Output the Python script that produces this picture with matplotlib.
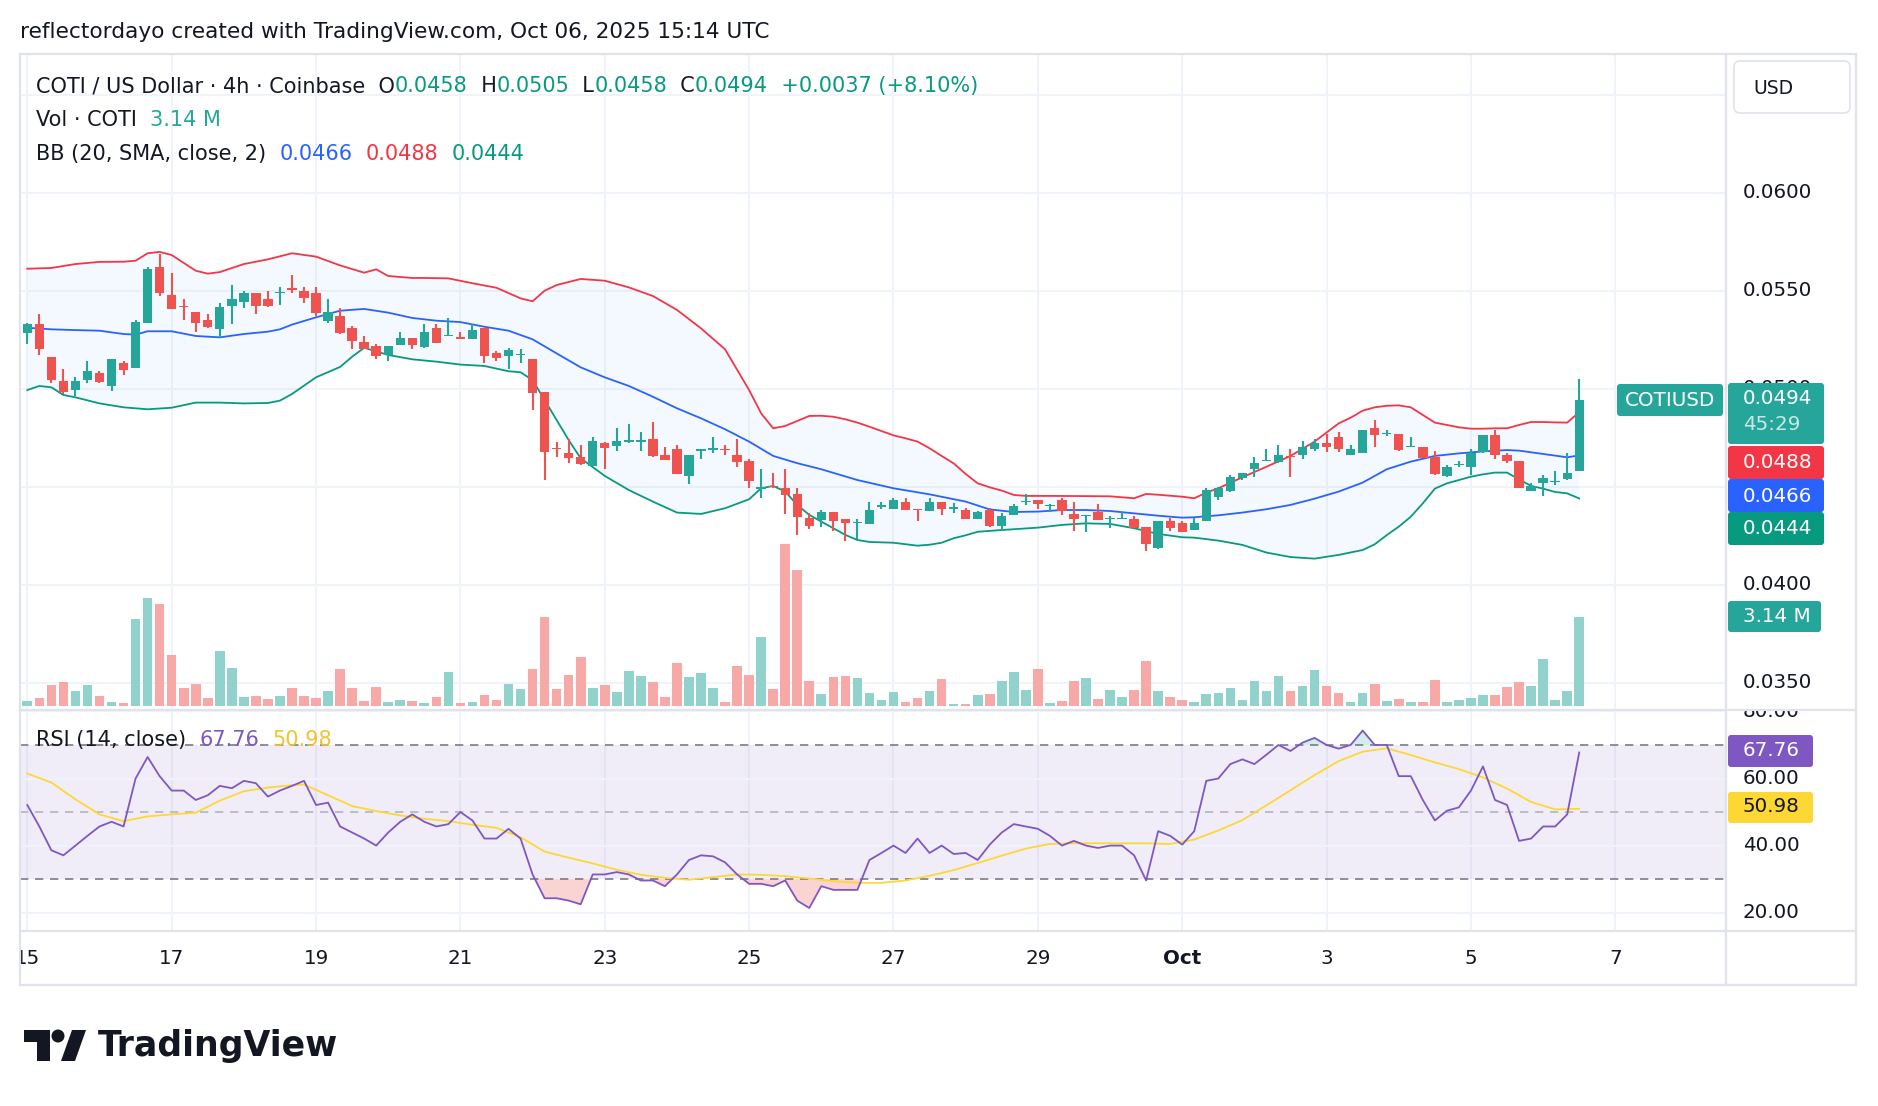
import matplotlib
matplotlib.use("Agg")
import matplotlib.pyplot as plt
import numpy as np
from matplotlib.lines import Line2D
from matplotlib.patches import FancyBboxPatch, Polygon, Circle
from matplotlib.transforms import (Bbox, TransformedBbox, IdentityTransform,
                                   blended_transform_factory)

# ---- data (4h candles, Sep 15 00:00 -> Oct 6 12:00) ---------------------
open_ = [.05286, .05328, .05162, .05039, .04993, .05046, .05080, .05016, .05131, .05107,
         .05337, .05621, .05478, .05422, .05391, .05351, .05306, .05422, .05442, .05488,
         .05458, .05487, .05512, .05499, .05488, .05347, .05371, .05310, .05238, .05218,
         .05172, .05225, .05259, .05214, .05310, .05267, .05264, .05255, .05310, .05182,
         .05169, .05172, .05152, .04983, .04697, .04672, .04652, .04607, .04723, .04709,
         .04728, .04730, .04743, .04662, .04692, .04556, .04682, .04689, .04694, .04662,
         .04631, .04490, .04505, .04492, .04461, .04339, .04330, .04369, .04335, .04315,
         .04311, .04398, .04388, .04422, .04386, .04378, .04422, .04388, .04379, .04337,
         .04379, .04301, .04357, .04420, .04430, .04402, .04430, .04361, .04350, .04371,
         .04334, .04334, .04334, .04294, .04187, .04323, .04316, .04281, .04323, .04449,
         .04480, .04543, .04589, .04629, .04628, .04657, .04660, .04691, .04721, .04752,
         .04660, .04670, .04800, .04769, .04769, .04701, .04701, .04650, .04556, .04609,
         .04599, .04677, .04764, .04660, .04631, .04480, .04521, .04524, .04538, .0458]
high = [.05334, .05381, .05162, .05101, .05060, .05141, .05090, .05152, .05141, .05351,
        .05621, .05687, .05590, .05458, .05391, .05381, .05437, .05529, .05499, .05488,
        .05499, .05519, .05580, .05519, .05519, .05458, .05412, .05320, .05269, .05228,
        .05218, .05289, .05259, .05330, .05330, .05361, .05289, .05330, .05310, .05192,
        .05208, .05203, .05152, .04983, .04730, .04743, .04713, .04754, .04730, .04799,
        .04820, .04779, .04830, .04703, .04713, .04662, .04691, .04754, .04713, .04743,
        .04641, .04590, .04572, .04590, .04492, .04364, .04381, .04369, .04335, .04337,
        .04420, .04420, .04441, .04441, .04386, .04441, .04422, .04419, .04390, .04378,
        .04390, .04368, .04412, .04463, .04430, .04412, .04442, .04420, .04356, .04412,
        .04349, .04373, .04350, .04294, .04323, .04339, .04325, .04342, .04492, .04500,
        .04558, .04572, .04650, .04691, .04711, .04691, .04733, .04742, .04767, .04779,
        .04711, .04788, .04840, .04789, .04769, .04752, .04701, .04680, .04609, .04631,
        .04691, .04762, .04788, .04670, .04631, .04517, .04558, .04582, .04670, .0505]
low = [.05228, .05174, .05031, .04973, .04963, .05031, .05031, .04990, .05072, .05107,
       .05337, .05473, .05408, .05352, .05291, .05311, .05260, .05332, .05413, .05383,
       .05419, .05429, .05490, .05439, .05371, .05337, .05281, .05204, .05204, .05153,
       .05143, .05225, .05204, .05209, .05235, .05267, .05255, .05255, .05133, .05143,
       .05102, .05133, .04893, .04536, .04653, .04623, .04612, .04607, .04592, .04684,
       .04725, .04684, .04653, .04638, .04567, .04515, .04643, .04674, .04663, .04602,
       .04495, .04444, .04495, .04362, .04255, .04286, .04296, .04276, .04225, .04231,
       .04308, .04385, .04385, .04379, .04327, .04378, .04354, .04364, .04337, .04337,
       .04296, .04276, .04357, .04405, .04385, .04373, .04354, .04276, .04267, .04328,
       .04288, .04334, .04291, .04174, .04184, .04274, .04267, .04279, .04323, .04432,
       .04475, .04534, .04551, .04629, .04623, .04551, .04643, .04684, .04677, .04677,
       .04660, .04670, .04704, .04759, .04684, .04701, .04645, .04561, .04551, .04599,
       .04561, .04674, .04643, .04623, .04492, .04476, .04454, .04507, .04532, .0458]
close = [.05328, .05204, .05046, .04983, .05039, .05090, .05034, .05152, .05097, .05340,
         .05611, .05487, .05408, .05415, .05337, .05317, .05417, .05458, .05488, .05424,
         .05424, .05493, .05504, .05463, .05386, .05391, .05286, .05245, .05204, .05169,
         .05218, .05259, .05225, .05289, .05235, .05272, .05255, .05299, .05169, .05158,
         .05197, .05177, .04980, .04679, .04691, .04648, .04618, .04733, .04699, .04733,
         .04736, .04738, .04658, .04638, .04567, .04662, .04691, .04697, .04685, .04628,
         .04531, .04498, .04498, .04459, .04347, .04301, .04369, .04323, .04313, .04322,
         .04379, .04405, .04432, .04379, .04381, .04422, .04388, .04396, .04337, .04369,
         .04300, .04350, .04402, .04427, .04410, .04407, .04378, .04337, .04356, .04332,
         .04340, .04340, .04291, .04209, .04323, .04288, .04271, .04313, .04483, .04495,
         .04548, .04568, .04619, .04636, .04660, .04650, .04701, .04725, .04701, .04691,
         .04691, .04788, .04762, .04776, .04689, .04708, .04648, .04567, .04599, .04616,
         .04674, .04762, .04660, .04629, .04492, .04504, .04543, .04529, .04568, .0494]
volume = [0.18, 0.29, 0.74, 0.85, 0.53, 0.74, 0.35, 0.14, 0.11, 3.07,
          3.81, 3.60, 1.80, 0.64, 0.78, 0.28, 1.94, 1.34, 0.32, 0.35,
          0.25, 0.35, 0.64, 0.35, 0.28, 0.53, 1.31, 0.64, 0.18, 0.67,
          0.14, 0.21, 0.18, 0.11, 0.32, 1.20, 0.11, 0.14, 0.39, 0.21,
          0.78, 0.60, 1.31, 3.14, 0.60, 1.09, 1.73, 0.64, 0.74, 0.49,
          1.23, 1.06, 0.85, 0.32, 1.52, 1.02, 1.16, 0.64, 0.14, 1.41,
          1.09, 2.43, 0.60, 5.72, 4.80, 0.88, 0.42, 1.02, 1.06, 0.99,
          0.46, 0.21, 0.49, 0.14, 0.28, 0.53, 0.95, 0.07, 0.07, 0.39,
          0.42, 0.88, 1.20, 0.56, 1.31, 0.11, 0.18, 0.88, 0.99, 0.25,
          0.56, 0.32, 0.56, 1.59, 0.53, 0.32, 0.21, 0.14, 0.42, 0.46,
          0.64, 0.21, 0.88, 0.53, 1.06, 0.53, 0.71, 1.27, 0.71, 0.46,
          0.14, 0.46, 0.78, 0.18, 0.25, 0.14, 0.14, 0.92, 0.14, 0.21,
          0.28, 0.39, 0.39, 0.67, 0.85, 0.71, 1.66, 0.21, 0.53, 3.14]

# Bollinger bands (20, SMA, close, 2) at candle indices
bb_up_i = [0, 2, 4, 6, 8, 9, 10, 11, 12, 14, 15, 16, 18, 20, 22, 24, 26, 28, 29, 30, 32, 33,
           35, 37, 39, 41, 42, 43, 44, 46, 48, 50, 52, 54, 56, 58, 60, 61, 62, 63, 65, 66,
           67, 68, 69, 70, 71, 72, 73, 74, 75, 76, 77, 78, 79, 80, 81, 82, 83, 85, 88, 90,
           92, 93, 94, 96, 97, 98, 99, 101, 103, 105, 107, 109, 110, 111, 112, 113, 114,
           115, 116, 117, 118, 119, 120, 121, 122, 123, 124, 125, 126, 127, 128, 129]
bb_up = [.05612, .05616, .05636, .05647, .05648, .05653, .05691, .05698, .05682, .05602,
         .05587, .05595, .05636, .05660, .05691, .05674, .05629, .05592, .05609, .05575,
         .05565, .05565, .05563, .05538, .05515, .05461, .05446, .05500, .05529, .05560,
         .05551, .05517, .05473, .05402, .05308, .05201, .04993, .04874, .04798, .04810,
         .04861, .04862, .04857, .04844, .04827, .04806, .04784, .04762, .04747, .04730,
         .04696, .04657, .04619, .04565, .04517, .04497, .04480, .04458, .04453, .04453,
         .04452, .04451, .04441, .04463, .04459, .04449, .04441, .04470, .04492, .04548,
         .04602, .04657, .04730, .04823, .04852, .04888, .04905, .04913, .04915, .04905,
         .04866, .04827, .04815, .04803, .04796, .04796, .04798, .04798, .04815, .04830,
         .04830, .04828, .04827, .04880]
bb_mid_i = [0, 2, 4, 6, 8, 9, 10, 12, 14, 16, 18, 20, 21, 22, 24, 26, 28, 30, 32, 34, 36,
            38, 40, 42, 44, 46, 48, 50, 52, 54, 56, 58, 60, 62, 64, 66, 69, 72, 75, 78, 80,
            82, 84, 86, 88, 90, 92, 94, 96, 97, 99, 101, 103, 105, 107, 109, 111, 113, 115,
            117, 119, 121, 123, 124, 126, 128, 129]
bb_mid = [.05311, .05303, .05299, .05296, .05279, .05276, .05293, .05293, .05269, .05262,
          .05279, .05291, .05303, .05327, .05364, .05398, .05407, .05388, .05361, .05347,
          .05340, .05316, .05296, .05252, .05180, .05109, .05058, .05014, .04959, .04900,
          .04849, .04793, .04730, .04657, .04620, .04589, .04534, .04492, .04461, .04424,
          .04384, .04371, .04373, .04381, .04381, .04376, .04364, .04352, .04342, .04344,
          .04354, .04368, .04385, .04407, .04439, .04475, .04521, .04589, .04628, .04657,
          .04670, .04680, .04687, .04684, .04667, .04650, .04660]
bb_lo_i = [0, 1, 2, 3, 4, 6, 8, 10, 12, 14, 16, 18, 20, 21, 22, 24, 26, 27, 28, 30, 32, 34,
           36, 38, 40, 41, 42, 43, 44, 45, 46, 48, 50, 52, 54, 56, 58, 60, 61, 62, 63, 64,
           65, 66, 67, 68, 69, 70, 72, 74, 75, 76, 77, 78, 79, 81, 84, 86, 88, 90, 92, 94,
           96, 97, 99, 101, 103, 105, 107, 109, 111, 112, 113, 114, 115, 116, 117, 118, 119,
           120, 121, 122, 123, 124, 125, 126, 127, 128, 129]
bb_lo = [.04993, .05014, .05007, .04968, .04956, .04925, .04905, .04895, .04903, .04929,
         .04929, .04925, .04927, .04939, .04973, .05058, .05111, .05163, .05209, .05172,
         .05150, .05138, .05123, .05116, .05089, .05084, .05044, .04942, .04840, .04738,
         .04645, .04555, .04483, .04424, .04368, .04361, .04390, .04436, .04492, .04504,
         .04475, .04407, .04356, .04322, .04288, .04254, .04228, .04218, .04214, .04199,
         .04204, .04214, .04237, .04252, .04270, .04279, .04291, .04305, .04313, .04310,
         .04288, .04259, .04242, .04240, .04225, .04203, .04164, .04141, .04133, .04152,
         .04177, .04206, .04253, .04296, .04347, .04415, .04490, .04517, .04534, .04551,
         .04563, .04572, .04572, .04537, .04504, .04490, .04473, .04466, .04440]

# RSI (14, close) per candle and its moving average
rsi = [52.1, 45.7, 38.6, 37.1, 40.0, 42.9, 45.7, 47.1, 45.7, 60.0,
       66.4, 60.7, 56.4, 56.4, 53.6, 55.0, 57.8, 57.1, 59.3, 58.6,
       54.6, 56.4, 57.8, 59.3, 52.1, 52.8, 45.7, 43.9, 42.1, 40.0,
       43.9, 47.1, 49.3, 47.1, 45.7, 46.4, 50.0, 47.5, 42.1, 42.1,
       45.0, 42.1, 31.4, 24.3, 24.3, 23.6, 22.5, 31.4, 31.4, 32.1,
       31.4, 29.6, 29.6, 27.9, 31.4, 35.7, 37.1, 36.8, 35.0, 31.4,
       28.6, 28.6, 27.9, 29.6, 23.6, 21.4, 27.9, 26.8, 26.8, 26.8,
       35.7, 37.8, 40.0, 37.8, 42.1, 37.8, 40.0, 37.5, 37.8, 35.7,
       40.3, 43.9, 46.4, 45.7, 45.0, 42.9, 40.0, 41.4, 40.0, 39.3,
       40.0, 40.0, 37.1, 29.6, 44.3, 42.9, 40.3, 44.3, 59.3, 60.0,
       64.3, 65.7, 64.3, 67.1, 70.0, 68.2, 70.7, 72.1, 70.0, 68.9,
       70.0, 74.3, 70.0, 70.0, 60.7, 60.7, 53.6, 47.5, 50.4, 51.4,
       56.4, 63.6, 53.6, 52.1, 41.4, 42.1, 45.7, 45.7, 49.3, 67.76]
rsi_ma_i = [0, 2, 4, 6, 8, 10, 12, 14, 16, 18, 20, 22, 23, 25, 27, 29, 31, 33, 35, 37, 39,
            41, 43, 45, 47, 49, 51, 53, 55, 57, 59, 61, 63, 65, 67, 69, 71, 73, 75, 77, 79,
            81, 83, 85, 87, 89, 91, 93, 95, 97, 99, 101, 103, 105, 107, 109, 111, 113, 115,
            117, 119, 121, 123, 125, 127, 129]
rsi_ma = [61.5, 58.8, 53.8, 49.3, 47.3, 48.7, 49.3, 49.8, 53.4, 56.2, 57.3, 58.0, 58.2,
          55.0, 51.8, 50.3, 49.0, 48.0, 47.3, 46.2, 45.3, 42.5, 38.2, 36.4, 34.7, 32.8,
          31.3, 30.4, 29.8, 30.6, 31.4, 31.3, 30.9, 30.2, 29.4, 28.9, 28.9, 29.6, 31.0,
          32.7, 34.8, 37.0, 39.1, 40.5, 40.7, 40.7, 40.7, 40.7, 40.5, 41.8, 44.5, 47.6,
          52.0, 56.5, 61.0, 65.2, 68.0, 69.0, 67.0, 64.8, 62.8, 60.3, 57.0, 53.0, 50.8, 50.98]

day_ticks = ["15", "17", "19", "21", "23", "25", "27", "29", "Oct", "3", "5", "7"]
price_grid = [0.035, 0.040, 0.045, 0.050, 0.055, 0.060, 0.065]
price_ticks = [0.035, 0.040, 0.050, 0.055, 0.060]   # 0.0450 / 0.0650 sit under tags
rsi_ticks = [20, 40, 60, 80]

# ---- style ----------------------------------------------------------------
UP, DN = "#26a69a", "#ef5350"
VUP, VDN = "#92d2cc", "#f7a9a7"
BB_UP, BB_MID, BB_LO = "#f23645", "#2962ff", "#089981"
PURPLE, YELLOW = "#7e57c2", "#fdd835"
TXT, FRAME, GRID = "#131722", "#e0e3eb", "#f0f3fa"
FONT = "DejaVu Sans"

W, H = 1878, 1106
fig = plt.figure(figsize=(W / 100, H / 100), dpi=100)
fig.patch.set_facecolor("white")
R = fig.canvas.get_renderer()
PIX = IdentityTransform()


def fx(px):
    return px / W


def fy(py):
    return 1 - py / H


def frect(l, t, r, b):
    return [fx(l), fy(b), (r - l) / W, (b - t) / H]


def fline(x0, y0, x1, y1, **kw):
    fig.add_artist(Line2D([x0, x1], [H - y0, H - y1], transform=PIX, **kw))


def fbox(l, t, r, b, fc, ec="none", rad=3, z=5):
    fig.add_artist(FancyBboxPatch((l, H - b), r - l, b - t, transform=PIX,
                                  boxstyle=f"round,pad=0,rounding_size={rad}",
                                  fc=fc, ec=ec, lw=1.2, zorder=z))


def fit(s, width, weight="normal", family=FONT):
    t = fig.text(0, 0, s, fontsize=20, family=family, fontweight=weight)
    w = t.get_window_extent(R).width
    t.remove()
    return 20 * width / w


def runs(x, y, parts, size):
    for s, c in parts:
        t = fig.text(fx(x), fy(y), s, color=c, fontsize=size, family=FONT,
                     va="center", ha="left", zorder=6)
        x += t.get_window_extent(R).width


# ---- panes ----------------------------------------------------------------
X0, X1 = 20, 1726          # plot area (px)
PT, PB, RB, TB = 54, 710, 931, 985
XR = 1856
xlim = (-0.607, 141.2)

ax = fig.add_axes(frect(X0, PT, X1, PB))
axv = fig.add_axes(frect(X0, PT, X1, PB))
axr = fig.add_axes(frect(X0, PB, X1, RB))
ax.set_zorder(2); axv.set_zorder(1)
ax.patch.set_visible(False)
for a in (ax, axv, axr):
    a.set_axis_off()

n = len(close)
idx = np.arange(n)
o, c, hi, lo = map(np.asarray, (open_, close, high, low))
up = c >= o

# grid (under volume)
day_pos = np.arange(0, 12 * len(day_ticks), 12)
for d in day_pos:
    axv.axvline(d, color=GRID, lw=1.4, zorder=0)
    axr.axvline(d, color=GRID, lw=1.4, zorder=0)
axv.hlines(price_grid, xlim[0], xlim[1], colors=GRID, lw=1.4, zorder=0,
           transform=ax.transData)

# volume
axv.bar(idx, volume, width=0.8, color=np.where(up, VUP, VDN), lw=0, zorder=2)
axv.set_xlim(xlim)
axv.set_ylim(-0.141, 23.0)

# bollinger bands
ax.fill(np.r_[bb_up_i, bb_lo_i[::-1]], np.r_[bb_up, bb_lo[::-1]], color="#2196f3",
        alpha=0.05, lw=0, zorder=1)
ax.plot(bb_up_i, bb_up, color=BB_UP, lw=1.3, zorder=2)
ax.plot(bb_mid_i, bb_mid, color=BB_MID, lw=1.3, zorder=2)
ax.plot(bb_lo_i, bb_lo, color=BB_LO, lw=1.3, zorder=2)

# candles
col = np.where(up, UP, DN)
ax.vlines(idx, lo, hi, colors=col, lw=1.5, zorder=3)
ax.bar(idx, np.maximum(np.abs(c - o), 0.00005), bottom=np.minimum(o, c), width=0.78,
       color=col, lw=0, zorder=4)
ax.set_xlim(xlim)
ax.set_ylim(0.033607, 0.067077)

# RSI pane
rsi_a = np.asarray(rsi)
axr.axhspan(30, 70, color=PURPLE, alpha=0.1, lw=0, zorder=0)
for v in rsi_ticks:
    axr.axhline(v, color=GRID, lw=1.4, zorder=0)
axr.axhline(70, color="#787b86", lw=1.2, ls=(0, (5, 4)), zorder=1)
axr.axhline(50, color="#b2b5be", lw=1.2, ls=(0, (5, 4)), zorder=1)
axr.axhline(30, color="#787b86", lw=1.2, ls=(0, (5, 4)), zorder=1)
axr.fill_between(idx, rsi_a, 30, where=rsi_a < 30, interpolate=True,
                 color=DN, alpha=0.25, lw=0, zorder=1)
axr.fill_between(idx, rsi_a, 70, where=rsi_a > 70, interpolate=True,
                 color=UP, alpha=0.2, lw=0, zorder=1)
axr.plot(rsi_ma_i, rsi_ma, color=YELLOW, lw=1.3, zorder=2)
axr.plot(idx, rsi_a, color=PURPLE, lw=1.3, zorder=3)
axr.set_xlim(xlim)
axr.set_ylim(14.54, 80.42)

# ---- frame ----------------------------------------------------------------
kw = dict(color=FRAME, lw=1.6, zorder=4)
fline(X0, PT, XR, PT, **kw)
fline(X0, TB, XR, TB, **kw)
fline(X0, PT, X0, TB, **kw)
fline(XR, PT, XR, TB, **kw)
fline(X1, PT, X1, TB, **kw)
fline(X0, PB, XR, PB, **kw)
fline(X0, RB, XR, RB, **kw)

# ---- price scale ----------------------------------------------------------
AX_FS = 14.3
tr_p = blended_transform_factory(fig.transFigure, ax.transData)
for p in price_ticks:
    fig.text(fx(1743), p, f"{p:.4f}", transform=tr_p, fontsize=AX_FS, color=TXT,
             family=FONT, va="center", ha="left", zorder=3)
clip_r = TransformedBbox(Bbox([[fx(X1), fy(RB)], [fx(XR), fy(PB)]]), fig.transFigure)
tr_r = blended_transform_factory(fig.transFigure, axr.transData)
for v in rsi_ticks:
    t = fig.text(fx(1743), v, f"{v:.2f}", transform=tr_r, fontsize=AX_FS, color=TXT,
                 family=FONT, va="center", ha="left", zorder=3)
    t.set_clip_box(clip_r)
    t.set_clip_on(True)

# time scale
clip_t = TransformedBbox(Bbox([[fx(X0), fy(TB)], [fx(X1), fy(RB)]]), fig.transFigure)
tr_t = blended_transform_factory(ax.transData, fig.transFigure)
for d, lab in zip(day_pos, day_ticks):
    t = fig.text(d, fy(958), lab, transform=tr_t, fontsize=AX_FS, color=TXT, family=FONT,
                 va="center", ha="center", fontweight="bold" if lab == "Oct" else "normal")
    t.set_clip_box(clip_t)
    t.set_clip_on(True)

# USD button
fbox(1734, 61, 1850, 113, "white", ec=FRAME, rad=6)
fig.text(fx(1753), fy(88), "USD", fontsize=13.5, color=TXT, family=FONT,
         va="center", ha="left", zorder=6)


# value labels on the scale
def tag(t, b, fc, lines, r=1824, tc="white"):
    fbox(X1 + 2, t, r, b, fc, rad=3)
    for s, yy, al in lines:
        fig.text(fx(1743), fy(yy), s, fontsize=AX_FS, color=tc, alpha=al, family=FONT,
                 va="center", ha="left", zorder=6)


tag(383, 444, UP, [(f"{close[-1]:.4f}", 399, 1), ("45:29", 425, 0.75)])
tag(446, 479, BB_UP, [(f"{bb_up[-1]:.4f}", 462, 1)])
tag(479, 512, BB_MID, [(f"{bb_mid[-1]:.4f}", 496, 1)])
tag(512, 545, BB_LO, [(f"{bb_lo[-1]:.4f}", 529, 1)])
tag(601, 632, UP, [(f"{volume[-1]:.2f} M", 617, 1)], r=1821)
tag(735, 767, PURPLE, [(f"{rsi[-1]:.2f}", 751, 1)], r=1813)
tag(792, 823, YELLOW, [(f"{rsi_ma[-1]:.2f}", 807, 1)], r=1813, tc=TXT)
fbox(1617, 384, 1723, 416, UP, rad=3)
fig.text(fx(1670), fy(400), "COTIUSD", fontsize=AX_FS, color="white", family=FONT,
         va="center", ha="center", zorder=6)

# ---- legends --------------------------------------------------------------
line1 = [("COTI / US Dollar · 4h · Coinbase  O", TXT), ("0.0458", "#089981"),
         ("  H", TXT), ("0.0505", "#089981"), ("  L", TXT), ("0.0458", "#089981"),
         ("  C", TXT), ("0.0494", "#089981"), ("  +0.0037 (+8.10%)", "#089981")]
HFS = fit("".join(s for s, _ in line1), 944)
runs(36, 86, line1, HFS)
runs(36, 120, [("Vol · COTI  ", TXT), ("3.14 M", UP)], HFS)
runs(36, 154, [("BB (20, SMA, close, 2)  ", TXT), ("0.0466", BB_MID), ("  ", TXT),
               ("0.0488", BB_UP), ("  ", TXT), ("0.0444", BB_LO)], HFS)
runs(36, 740, [("RSI (14, close)  ", TXT), ("67.76", PURPLE), ("  ", TXT),
               ("50.98", "#f2c230")], HFS)

title = "reflectordayo created with TradingView.com, Oct 06, 2025 15:14 UTC"
fig.text(fx(20), fy(32), title, fontsize=fit(title, 748), color=TXT, family=FONT,
         va="center", ha="left")

# ---- TradingView logo -----------------------------------------------------
for pts in ([(24, 1030), (50, 1030), (50, 1061), (37, 1061), (37, 1042), (24, 1042)],
            [(61, 1061), (75, 1061), (86, 1030), (72, 1030)]):
    fig.add_artist(Polygon([(x, H - y) for x, y in pts], closed=True, fc=TXT, ec="none",
                           transform=PIX))
fig.add_artist(Circle((58, H - 1036), 6.5, fc=TXT, ec="none", transform=PIX))
fig.text(fx(98), fy(1046), "TradingView", fontsize=fit("TradingView", 241, "bold"),
         color=TXT, family=FONT, fontweight="bold", va="center", ha="left")

fig.savefig("out.png", dpi=100, facecolor="white")
